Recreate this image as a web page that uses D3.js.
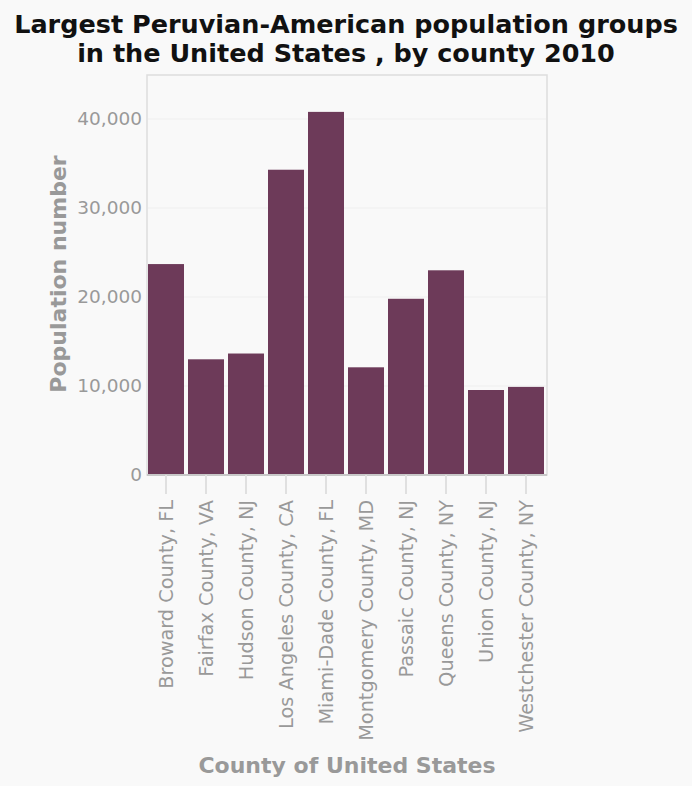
<!DOCTYPE html>
<html><head><meta charset="utf-8">
<script src="https://cdn.jsdelivr.net/npm/d3@7"></script>
<style>body{margin:0;background:#f9f9f9;font-family:"DejaVu Sans",sans-serif}</style>
</head><body>
<svg id="c" width="692" height="786"></svg>
<script>
const categories = ["Broward County, FL","Fairfax County, VA","Hudson County, NJ","Los Angeles County, CA","Miami-Dade County, FL","Montgomery County, MD","Passaic County, NJ","Queens County, NY","Union County, NJ","Westchester County, NY"];
const values = [23700, 13000, 13650, 34300, 40800, 12100, 19800, 23000, 9550, 9900];
const yTicks = [0, 10000, 20000, 30000, 40000];

const svg = d3.select("#c");
const L = 147, R = 547, T = 75, B = 475;
svg.append("rect").attr("width",692).attr("height",786).attr("fill","#f9f9f9");
svg.append("rect").attr("x",L).attr("y",T).attr("width",R-L).attr("height",B-T)
  .attr("fill","#f9f9f9").attr("stroke","#dddddd").attr("stroke-width",1.5);

const x = d3.scaleBand().domain(categories).range([L-1,R-1]).paddingInner(0.1).paddingOuter(0.05);
const y = d3.scaleLinear().domain([0,44944]).range([B,T]);

svg.append("g").selectAll("line").data(yTicks.slice(1)).join("line")
  .attr("x1",L+1).attr("x2",R-1).attr("y1",d=>y(d)).attr("y2",d=>y(d))
  .attr("stroke","#efefef").attr("stroke-width",1.2);

svg.append("g").selectAll("rect").data(values).join("rect")
  .attr("x",(d,i)=>x(categories[i])).attr("width",x.bandwidth())
  .attr("y",d=>y(d)).attr("height",d=>y(0)-y(d)-1)
  .attr("fill","#6d3a59");

const ya = svg.append("g").attr("transform",`translate(${L},0)`)
  .call(d3.axisLeft(y).tickValues(yTicks).tickFormat(d3.format(",")).tickSize(0).tickPadding(5));
ya.select(".domain").remove();
ya.selectAll("text").attr("fill","#999").attr("font-size",18.5).attr("font-family","DejaVu Sans");

const xa = svg.append("g").attr("transform",`translate(0,${B})`)
  .call(d3.axisBottom(x).tickSize(19).tickPadding(6));
xa.select(".domain").attr("stroke","#c8c8c8").attr("stroke-width",2).attr("d",`M${L},0H${R}`);
xa.selectAll(".tick line").attr("stroke","#e0e0e0").attr("stroke-width",2);
xa.selectAll("text").attr("fill","#999").attr("font-size",19.3).attr("font-family","DejaVu Sans")
  .attr("transform","rotate(-90)").attr("text-anchor","end").attr("dy","0.35em")
  .attr("x",-25).attr("y",0);

svg.append("text").attr("x",346).attr("y",33).attr("text-anchor","middle")
  .attr("font-size",25.5).attr("font-weight","bold").attr("fill","#111")
  .text("Largest Peruvian-American population groups");
svg.append("text").attr("x",346).attr("y",62).attr("text-anchor","middle")
  .attr("font-size",25.5).attr("font-weight","bold").attr("fill","#111")
  .text("in the United States , by county 2010");
svg.append("text").attr("transform","translate(66,274) rotate(-90)").attr("text-anchor","middle")
  .attr("font-size",22).attr("font-weight","bold").attr("fill","#999").text("Population number");
svg.append("text").attr("x",347).attr("y",773).attr("text-anchor","middle")
  .attr("font-size",22).attr("font-weight","bold").attr("fill","#999").text("County of United States");
</script>
</body></html>
